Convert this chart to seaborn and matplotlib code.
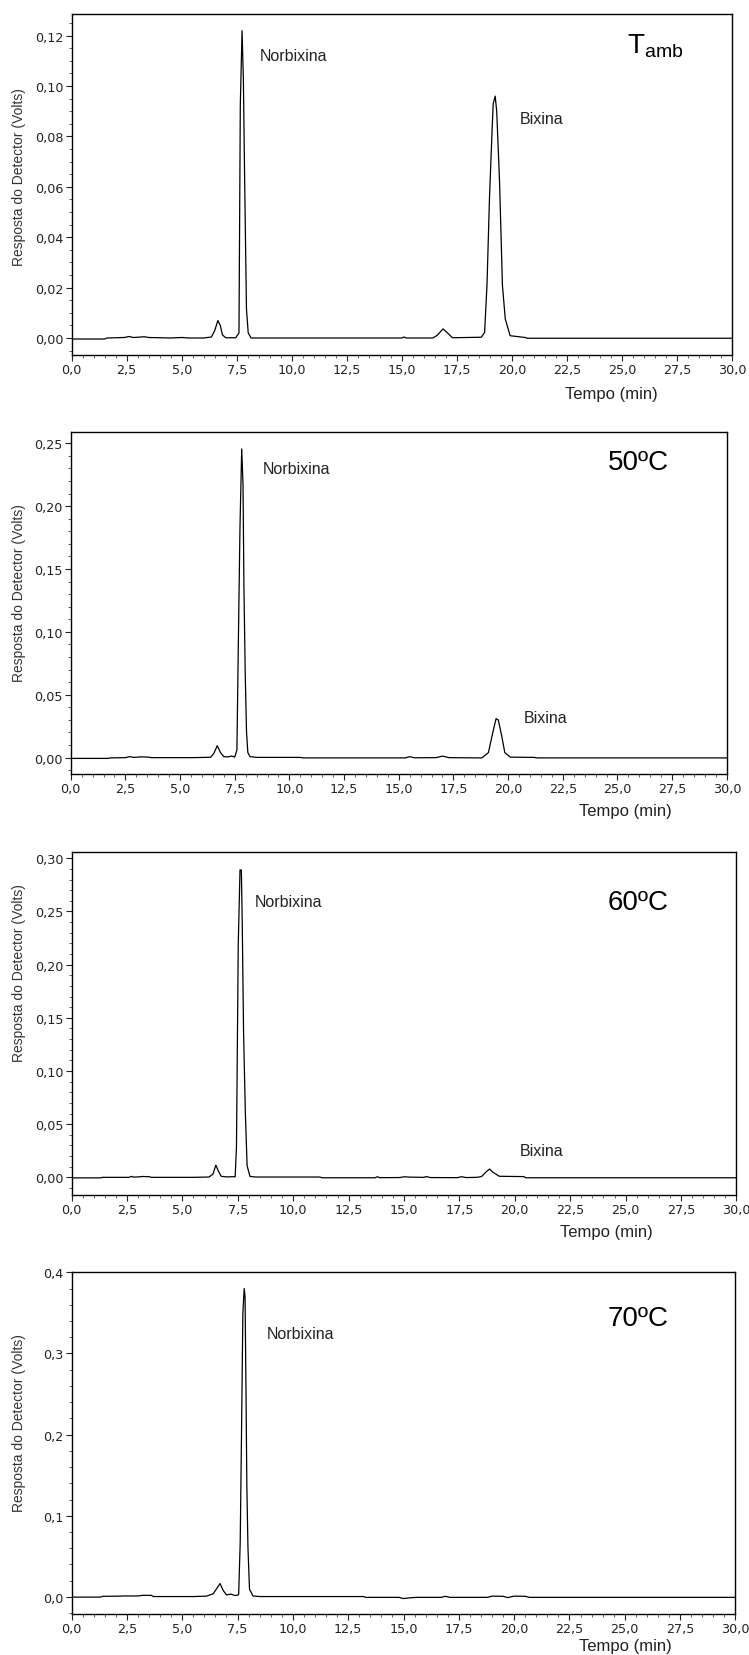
import numpy as np
import pandas as pd
import matplotlib
matplotlib.use("Agg")
import matplotlib.pyplot as plt
from matplotlib.ticker import MultipleLocator, AutoMinorLocator, FuncFormatter
import seaborn as sns

# ---- chromatogram traces: retention time (min) and detector response (V) ----
tempo_tamb = [0.0, 1.5, 1.6, 2.4, 2.6, 2.8, 3.0, 3.3, 3.5, 4.0, 4.5, 5.0, 5.3, 6.0,
              6.35, 6.5, 6.64, 6.75, 6.85, 7.0, 7.45, 7.60, 7.66, 7.74, 7.80, 7.86,
              7.94, 8.02, 8.15, 8.5, 15.0, 15.1, 15.2, 16.4, 16.6, 16.87, 17.05, 17.3,
              18.61, 18.76, 18.87, 18.98, 19.09, 19.15, 19.24, 19.31, 19.44, 19.57,
              19.70, 19.92, 20.6, 20.7, 30.0]
sinal_tamb = [-0.0004, -0.0004, 0.0000, 0.0002, 0.0006, 0.0002, 0.0003, 0.0005, 0.0002,
              0.0001, 0.0000, 0.0002, 0.0000, 0.0000, 0.0004, 0.0030, 0.0069, 0.0050,
              0.0012, 0.0001, 0.0001, 0.0020, 0.0922, 0.1220, 0.1028, 0.0612, 0.0115,
              0.0020, 0.0000, 0.0000, 0.0000, 0.0004, 0.0000, 0.0000, 0.0010, 0.0036,
              0.0022, 0.0001, 0.0003, 0.0022, 0.0214, 0.0552, 0.0803, 0.0929, 0.0960,
              0.0900, 0.0618, 0.0208, 0.0075, 0.0009, 0.0002, -0.0001, -0.0001]

tempo_50 = [0.0, 1.7, 1.8, 2.5, 2.7, 2.9, 3.2, 3.5, 3.7, 5.5, 6.4, 6.55, 6.70, 6.85,
            7.0, 7.2, 7.35, 7.5, 7.60, 7.66, 7.74, 7.82, 7.88, 7.92, 7.98, 8.04, 8.10,
            8.2, 8.5, 10.5, 10.6, 15.3, 15.5, 15.7, 16.7, 17.0, 17.3, 18.8, 19.1, 19.3,
            19.45, 19.55, 19.7, 19.85, 20.1, 21.2, 21.3, 30.0]
sinal_50 = [-0.0006, -0.0006, -0.0002, 0.0000, 0.0008, 0.0002, 0.0006, 0.0005, 0.0000,
            0.0000, 0.0003, 0.0035, 0.0095, 0.0040, 0.0008, 0.0006, 0.0013, 0.0005,
            0.0060, 0.0840, 0.1830, 0.2455, 0.2165, 0.1370, 0.0670, 0.0200, 0.0040,
            0.0008, 0.0002, 0.0002, -0.0002, -0.0002, 0.0008, -0.0001, 0.0000, 0.0012,
            0.0000, -0.0002, 0.0040, 0.0200, 0.0310, 0.0300, 0.0180, 0.0040, 0.0004,
            0.0002, -0.0002, -0.0002]

tempo_60 = [0.0, 1.3, 1.4, 2.6, 2.7, 2.8, 3.0, 3.2, 3.5, 3.6, 5.5, 6.2, 6.38, 6.51,
            6.62, 6.75, 7.0, 7.30, 7.38, 7.44, 7.52, 7.60, 7.66, 7.70, 7.76, 7.84, 7.92,
            8.05, 8.3, 11.2, 11.3, 13.7, 13.8, 13.9, 14.8, 15.0, 15.3, 15.9, 16.0, 16.2,
            17.4, 17.6, 17.8, 18.3, 18.5, 18.7, 18.86, 19.0, 19.3, 20.4, 20.5, 30.0]
sinal_60 = [-0.0005, -0.0005, 0.0000, 0.0000, 0.0009, 0.0002, 0.0004, 0.0008, 0.0006,
            0.0000, 0.0000, 0.0003, 0.0030, 0.0115, 0.0060, 0.0010, 0.0004, 0.0006,
            0.0005, 0.0282, 0.2185, 0.2890, 0.2890, 0.2398, 0.1364, 0.0611, 0.0109,
            0.0009, 0.0003, 0.0003, -0.0004, -0.0004, 0.0006, -0.0003, -0.0002, 0.0005,
            0.0002, 0.0000, 0.0007, -0.0002, -0.0003, 0.0006, -0.0002, 0.0000, 0.0008,
            0.0050, 0.0078, 0.0050, 0.0010, 0.0007, -0.0004, -0.0004]

tempo_70 = [0.0, 1.3, 1.4, 2.2, 2.3, 3.0, 3.2, 3.6, 3.7, 5.5, 6.1, 6.4, 6.55, 6.71,
            6.85, 7.0, 7.2, 7.35, 7.48, 7.55, 7.62, 7.68, 7.74, 7.80, 7.84, 7.88, 7.92,
            7.97, 8.04, 8.2, 8.5, 13.2, 13.3, 14.8, 15.0, 15.3, 15.6, 16.7, 16.9, 17.1,
            18.8, 19.0, 19.5, 19.7, 20.0, 20.5, 20.7, 30.0]
sinal_70 = [-0.0002, -0.0002, 0.0008, 0.0010, 0.0012, 0.0012, 0.0020, 0.0020, 0.0005,
            0.0005, 0.0010, 0.0040, 0.0100, 0.0165, 0.0080, 0.0025, 0.0035, 0.0020,
            0.0020, 0.0030, 0.0671, 0.2030, 0.3490, 0.3800, 0.3696, 0.2585, 0.1370,
            0.0610, 0.0095, 0.0012, 0.0005, 0.0005, -0.0005, -0.0005, -0.0020, -0.0010,
            -0.0005, -0.0005, 0.0008, -0.0005, -0.0005, 0.0010, 0.0008, -0.0008, 0.0010,
            0.0008, -0.0005, -0.0005]

# ---- panel descriptors ----
condicoes = ["Tamb", "50ºC", "60ºC", "70ºC"]
rotulos_condicao = [r"T$_{\mathregular{amb}}$", "50ºC", "60ºC", "70ºC"]
tracos = [(tempo_tamb, sinal_tamb), (tempo_50, sinal_50),
          (tempo_60, sinal_60), (tempo_70, sinal_70)]
# peak annotations: (text, time, response)
picos = [
    [("Norbixina", 8.56, 0.1123), ("Bixina", 20.35, 0.0872)],
    [("Norbixina", 8.78, 0.2300), ("Bixina", 20.72, 0.0316)],
    [("Norbixina", 8.25, 0.2590), ("Bixina", 20.22, 0.0257)],
    [("Norbixina", 8.83, 0.3250)],
]
y_max_tick = [0.12, 0.25, 0.30, 0.4]
y_step = [0.02, 0.05, 0.05, 0.1]
y_decimais = [2, 2, 2, 1]
y_limites = [(-0.00675, 0.1286), (-0.013, 0.2587), (-0.0166, 0.3056), (-0.021, 0.40)]

sns.set_theme(style="ticks")
plt.rcParams["font.family"] = ["Liberation Sans", "DejaVu Sans"]
plt.rcParams["mathtext.fontset"] = "custom"
plt.rcParams["mathtext.rm"] = "Liberation Sans"
plt.rcParams["mathtext.it"] = "Liberation Sans"

W, H = 749, 1656
fig = plt.figure(figsize=(W / 100, H / 100), dpi=100)
fig.patch.set_facecolor("white")

# axes boxes in pixels: left, right, top, bottom
caixas = [(71.7, 732.0, 15.0, 356.0),
          (70.7, 726.8, 433.3, 775.0),
          (71.6, 736.4, 853.3, 1196.0),
          (71.6, 735.4, 1273.3, 1615.0)]
cond_pos = [(0.884, 0.907), (0.865, 0.914), (0.852, 0.856), (0.853, 0.866)]
tempo_lbl = [(611, 395), (625.6, 811.7), (606, 1233), (625.6, 1646.7)]
ylabel_y = [177, 593, 973, 1423]

fmt_x = FuncFormatter(lambda v, p: f"{v:.1f}".replace(".", ","))

for i in range(4):
    l, r, t, b = caixas[i]
    ax = fig.add_axes([l / W, 1 - b / H, (r - l) / W, (b - t) / H])
    ax.set_facecolor("white")
    df = pd.DataFrame({"Tempo": tracos[i][0], "Resposta": tracos[i][1]})
    sns.lineplot(data=df, x="Tempo", y="Resposta", ax=ax, color="black",
                 linewidth=0.9, sort=False, estimator=None)
    ax.set_xlim(0, 30)
    ax.set_ylim(*y_limites[i])
    ax.xaxis.set_major_locator(MultipleLocator(2.5))
    ax.xaxis.set_minor_locator(AutoMinorLocator(5))
    ax.xaxis.set_major_formatter(fmt_x)
    ax.set_yticks(np.arange(0, y_max_tick[i] + 1e-9, y_step[i]))
    ax.yaxis.set_minor_locator(AutoMinorLocator(4 if i == 0 else 5))
    d = y_decimais[i]
    ax.yaxis.set_major_formatter(
        FuncFormatter(lambda v, p, d=d: f"{v:.{d}f}".replace(".", ",")))
    ax.tick_params(axis="both", which="major", direction="out", length=4,
                   width=0.8, labelsize=9.2, colors="#222222", pad=2)
    ax.tick_params(axis="both", which="minor", direction="out", length=2,
                   width=0.6, colors="#444444")
    for lab in ax.get_xticklabels() + ax.get_yticklabels():
        lab.set_family(["DejaVu Sans"])
    ax.set_xlabel("")
    ax.set_ylabel("")
    for s in ax.spines.values():
        s.set_visible(True)
        s.set_color("black")
        s.set_linewidth(1.0)

    for txt, xt, yt in picos[i]:
        ax.text(xt, yt, txt, fontsize=11.5, color="#222222", ha="left", va="center")

    cx, cy = cond_pos[i]
    ax.text(cx, cy, rotulos_condicao[i], transform=ax.transAxes, fontsize=20,
            ha="center", va="center", color="black")

    tx, ty = tempo_lbl[i]
    fig.text(tx / W, 1 - ty / H, "Tempo (min)", fontsize=12, ha="center",
             va="center", color="#222222")
    fig.text(19 / W, 1 - ylabel_y[i] / H, "Resposta do Detector (Volts)",
             fontsize=10, rotation=90, ha="center", va="center", color="#333333")

fig.savefig("out.png", dpi=100, facecolor="white")
